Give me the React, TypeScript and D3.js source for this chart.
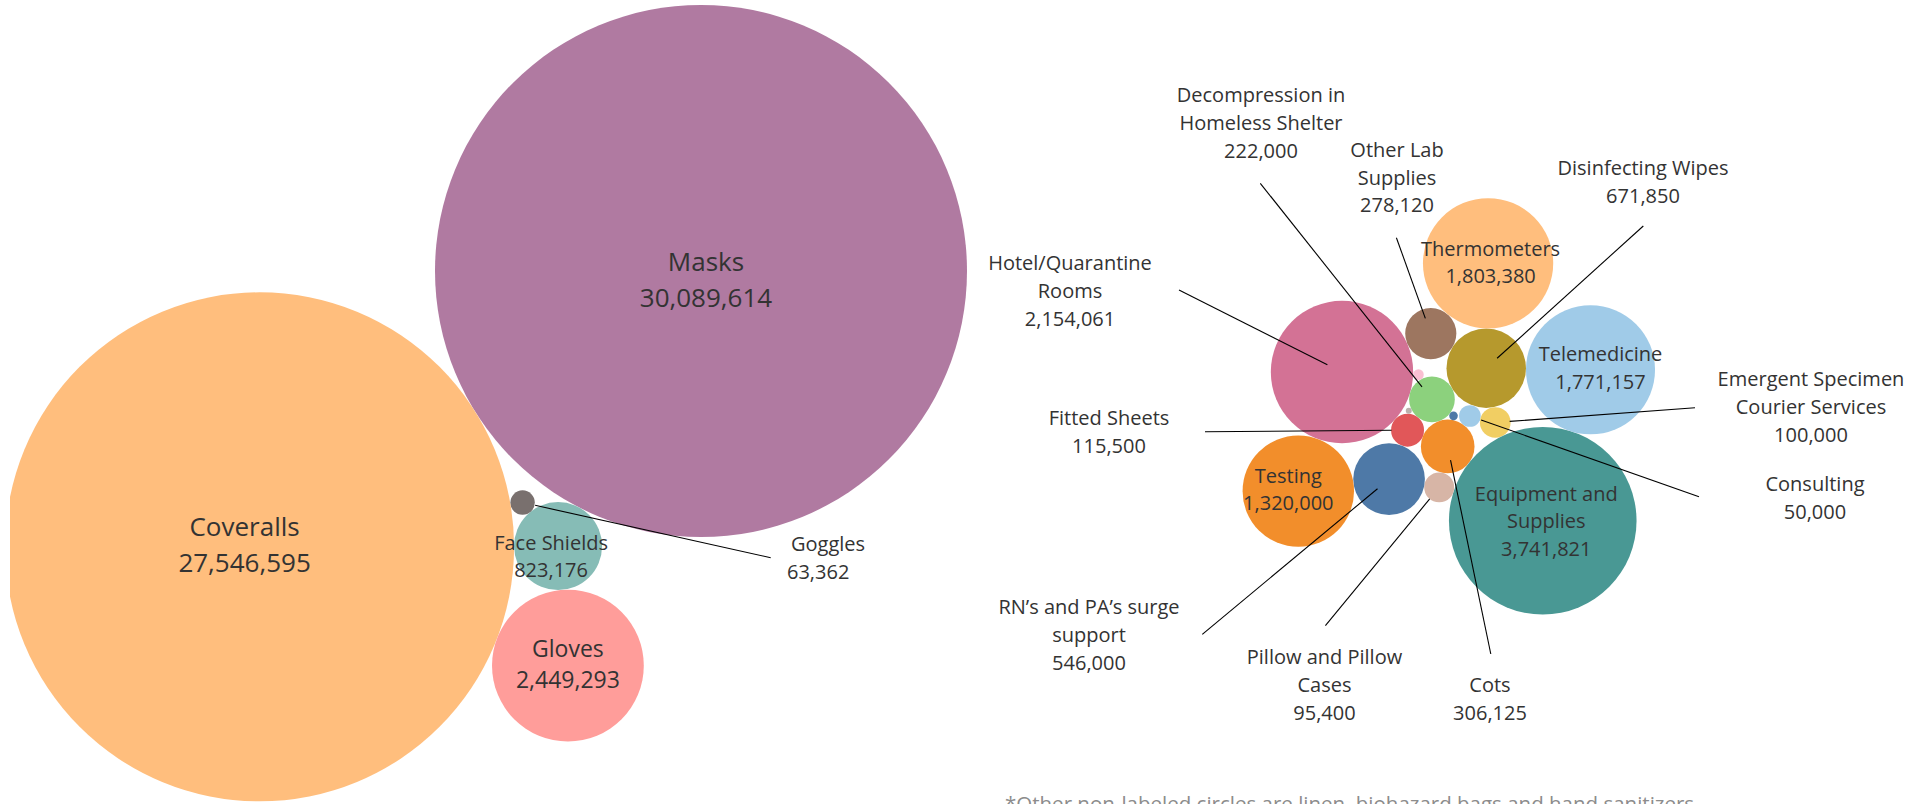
import React from "react";
import * as d3 from "d3";

// ---- data ----
const leftCategories = ["Masks", "Coveralls", "Face Shields", "Gloves", "Goggles"];
const leftValues = [30089614, 27546595, 823176, 2449293, 63362];

const rightCategories = [
  "Hotel/Quarantine Rooms",
  "Decompression in Homeless Shelter",
  "Other Lab Supplies",
  "Disinfecting Wipes",
  "Thermometers",
  "Fitted Sheets",
  "Cots",
  "Consulting",
  "Emergent Specimen Courier Services",
  "Equipment and Supplies",
  "Telemedicine",
  "Pillow and Pillow Cases",
  "RN’s and PA’s surge support",
  "Testing",
  "Linen",
  "Biohazard Bags",
  "Hand Sanitizers",
];
// last three are unlabeled in the original, sizes estimated
const rightValues = [
  2154061, 222000, 278120, 671850, 1803380, 115500, 306125, 50000, 100000,
  3741821, 1771157, 95400, 546000, 1320000, 12000, 3800, 7900,
];

const footnote = "*Other non-labeled circles are linen, biohazard bags and hand sanitizers";

// ---- styles ----
const colors: Record<string, string> = {
  Masks: "#B07AA1",
  Coveralls: "#FFBE7D",
  "Face Shields": "#86BCB6",
  Gloves: "#FF9D9A",
  Goggles: "#79706E",
  "Hotel/Quarantine Rooms": "#D37295",
  "Decompression in Homeless Shelter": "#8CD17D",
  "Other Lab Supplies": "#9D7660",
  "Disinfecting Wipes": "#B6992D",
  Thermometers: "#FFBE7D",
  "Fitted Sheets": "#E15759",
  Cots: "#F28E2B",
  Consulting: "#A0CBE8",
  "Emergent Specimen Courier Services": "#F1CE63",
  "Equipment and Supplies": "#499894",
  Telemedicine: "#A0CBE8",
  "Pillow and Pillow Cases": "#D7B5A6",
  "RN’s and PA’s surge support": "#4E79A7",
  Testing: "#F28E2B",
  Linen: "#FABFD2",
  "Biohazard Bags": "#BAB0AC",
  "Hand Sanitizers": "#4E79A7",
};

const WIDTH = 1929;
const HEIGHT = 804;
const FONT = "'Open Sans', 'Noto Sans', sans-serif";
const TEXT = "#333333";

// ---- packing: each bubble touches the two named before it ----
type Step = { id: string; a?: string; b?: string; side?: number; angle?: number };

const leftPacking: Step[] = [
  { id: "Masks" },
  { id: "Coveralls", a: "Masks", angle: 148 },
  { id: "Face Shields", a: "Masks", b: "Coveralls", side: -1 },
  { id: "Gloves", a: "Face Shields", b: "Coveralls", side: -1 },
  { id: "Goggles", a: "Coveralls", b: "Face Shields", side: -1 },
];

const H = "Hotel/Quarantine Rooms";
const DE = "Decompression in Homeless Shelter";
const rightPacking: Step[] = [
  { id: H },
  { id: DE, a: H, angle: 16.9 },
  { id: "Fitted Sheets", a: H, b: DE, side: 1 },
  { id: "Cots", a: DE, b: "Fitted Sheets", side: -1 },
  { id: "Disinfecting Wipes", a: DE, angle: -29.9 },
  { id: "Other Lab Supplies", a: H, b: "Disinfecting Wipes", side: -1 },
  { id: "Thermometers", a: "Other Lab Supplies", b: "Disinfecting Wipes", side: -1 },
  { id: "Consulting", a: "Disinfecting Wipes", b: "Cots", side: -1 },
  { id: "Emergent Specimen Courier Services", a: "Consulting", b: "Disinfecting Wipes", side: 1 },
  { id: "Equipment and Supplies", a: "Emergent Specimen Courier Services", b: "Cots", side: -1 },
  { id: "Telemedicine", a: "Disinfecting Wipes", b: "Equipment and Supplies", side: -1 },
  { id: "Pillow and Pillow Cases", a: "Cots", b: "Equipment and Supplies", side: 1 },
  { id: "RN’s and PA’s surge support", a: "Pillow and Pillow Cases", b: "Fitted Sheets", side: -1 },
  { id: "Testing", a: "RN’s and PA’s surge support", b: H, side: -1 },
  { id: "Linen", a: H, b: DE, side: -1 },
  { id: "Biohazard Bags", a: "Fitted Sheets", b: DE, side: -1 },
  { id: "Hand Sanitizers", a: DE, b: "Cots", side: -1 },
];

type Bubble = { id: string; value: number; r: number; x: number; y: number };

const maxValue = d3.max([...leftValues, ...rightValues]) as number;
const radius = d3.scaleSqrt().domain([0, maxValue]).range([0, 266]);
const fmt = d3.format(",");

function packCluster(
  cats: string[],
  vals: number[],
  steps: Step[],
  origin: [number, number]
): Map<string, Bubble> {
  const out = new Map<string, Bubble>();
  const valueOf = new Map(cats.map((c, i) => [c, vals[i]]));
  steps.forEach((s) => {
    const value = valueOf.get(s.id)!;
    const r = radius(value);
    let x = origin[0];
    let y = origin[1];
    if (s.a && s.b) {
      const A = out.get(s.a)!;
      const B = out.get(s.b)!;
      const dx = B.x - A.x;
      const dy = B.y - A.y;
      const d = Math.hypot(dx, dy);
      const da = A.r + r;
      const db = B.r + r;
      const along = (da * da - db * db + d * d) / (2 * d);
      const h = Math.sqrt(Math.max(0, da * da - along * along));
      const ux = dx / d;
      const uy = dy / d;
      x = A.x + along * ux - (s.side || 1) * h * uy;
      y = A.y + along * uy + (s.side || 1) * h * ux;
    } else if (s.a) {
      const A = out.get(s.a)!;
      const t = ((s.angle || 0) * Math.PI) / 180;
      x = A.x + (A.r + r) * Math.cos(t);
      y = A.y + (A.r + r) * Math.sin(t);
    }
    out.set(s.id, { id: s.id, value, r, x, y });
  });
  return out;
}

const leftBubbles = packCluster(leftCategories, leftValues, leftPacking, [701, 271]);
const rightBubbles = packCluster(rightCategories, rightValues, rightPacking, [1342, 372]);
const bubbles = new Map([...leftBubbles, ...rightBubbles]);

// ---- labels inside bubbles ----
type Inside = { id: string; lines: string[]; size: number; lh: number; dx: number; dy: number };
const insideLabels: Inside[] = [
  { id: "Masks", lines: ["Masks"], size: 26, lh: 36, dx: 5, dy: 0 },
  { id: "Coveralls", lines: ["Coveralls"], size: 26, lh: 36, dx: -15, dy: -11 },
  { id: "Face Shields", lines: ["Face Shields"], size: 20, lh: 27.7, dx: -7, dy: 3.5 },
  { id: "Gloves", lines: ["Gloves"], size: 23, lh: 31.3, dx: 0, dy: -8.5 },
  { id: "Thermometers", lines: ["Thermometers"], size: 20, lh: 27.4, dx: 2.5, dy: -7.5 },
  { id: "Telemedicine", lines: ["Telemedicine"], size: 20, lh: 27.4, dx: 10, dy: -8.5 },
  { id: "Testing", lines: ["Testing"], size: 20, lh: 27.4, dx: -10, dy: -8.6 },
  { id: "Equipment and Supplies", lines: ["Equipment and", "Supplies"], size: 20, lh: 27.5, dx: 3.5, dy: -20 },
];

// ---- callouts with leader lines ----
type Callout = {
  id: string;
  lines: string[];
  tx: number;
  ty: number;
  sx: number;
  sy: number;
  depth: number;
  anchor?: "middle" | "start";
};
const callouts: Callout[] = [
  { id: DE, lines: ["Decompression in", "Homeless Shelter"], tx: 1261, ty: 102.3, sx: 1260.3, sy: 183.3, depth: 0.7 },
  { id: "Other Lab Supplies", lines: ["Other Lab", "Supplies"], tx: 1397, ty: 156.7, sx: 1396.4, sy: 237.7, depth: 0.63 },
  { id: "Disinfecting Wipes", lines: ["Disinfecting Wipes"], tx: 1643, ty: 175, sx: 1643.3, sy: 226, depth: 0.37 },
  { id: H, lines: ["Hotel/Quarantine", "Rooms"], tx: 1070, ty: 270, sx: 1179, sy: 290, depth: 0.23 },
  { id: "Fitted Sheets", lines: ["Fitted Sheets"], tx: 1109, ty: 425.3, sx: 1205, sy: 431.7, depth: 0.97 },
  { id: "RN’s and PA’s surge support", lines: ["RN’s and PA’s surge", "support"], tx: 1089, ty: 614.3, sx: 1202.3, sy: 634.3, depth: 0.42 },
  { id: "Pillow and Pillow Cases", lines: ["Pillow and Pillow", "Cases"], tx: 1324.5, ty: 664, sx: 1325.4, sy: 625.7, depth: 1.0 },
  { id: "Cots", lines: ["Cots"], tx: 1490, ty: 691.7, sx: 1490.8, sy: 654, depth: 0.52 },
  { id: "Emergent Specimen Courier Services", lines: ["Emergent Specimen", "Courier Services"], tx: 1811, ty: 386, sx: 1695, sy: 407.7, depth: 0.94 },
  { id: "Consulting", lines: ["Consulting"], tx: 1815, ty: 490.7, sx: 1699, sy: 496.7, depth: 1.1 },
  { id: "Goggles", lines: ["Goggles"], tx: 791, ty: 550.7, sx: 770.7, sy: 557.7, depth: 1.05, anchor: "start" },
];

const CALLOUT_LH = 27.8;

export default function App() {
  const all = [...bubbles.values()];
  return (
    <div style={{ position: "absolute", left: 0, top: 0, width: WIDTH, height: HEIGHT, background: "#fff" }}>
      <svg width={WIDTH} height={HEIGHT} style={{ display: "block" }} fontFamily={FONT}>
        <defs>
          <clipPath id="sheet">
            <rect x={10} y={0} width={WIDTH - 10} height={HEIGHT} />
          </clipPath>
        </defs>
        <g clipPath="url(#sheet)">
          {all.map((b) => (
            <circle key={b.id} cx={b.x} cy={b.y} r={b.r} fill={colors[b.id]} />
          ))}

          {callouts.map((c) => {
            const b = bubbles.get(c.id)!;
            const vx = c.sx - b.x;
            const vy = c.sy - b.y;
            const len = Math.hypot(vx, vy);
            const ex = b.x + (vx / len) * b.r * c.depth;
            const ey = b.y + (vy / len) * b.r * c.depth;
            return (
              <line key={"l" + c.id} x1={c.sx} y1={c.sy} x2={ex} y2={ey} stroke="#000" strokeWidth={1.1} />
            );
          })}

          {insideLabels.map((l) => {
            const b = bubbles.get(l.id)!;
            const rows = [...l.lines, fmt(b.value)];
            return (
              <g key={"i" + l.id} fill={TEXT} fontSize={l.size} textAnchor="middle">
                {rows.map((t, i) => (
                  <text key={i} x={b.x + l.dx} y={b.y + l.dy + i * l.lh}>
                    {t}
                  </text>
                ))}
              </g>
            );
          })}

          {callouts.map((c) => {
            const b = bubbles.get(c.id)!;
            const rows = [...c.lines, fmt(b.value)];
            const start = c.anchor === "start";
            return (
              <g key={"c" + c.id} fill={TEXT} fontSize={20} textAnchor={c.anchor || "middle"}>
                {rows.map((t, i) => (
                  <text key={i} x={c.tx - (start && i > 0 ? 4 : 0)} y={c.ty + i * (start ? 28.6 : CALLOUT_LH)}>
                    {t}
                  </text>
                ))}
              </g>
            );
          })}

          <text x={1005} y={811} fontSize={20.5} fill="#8c8c8c">
            {footnote}
          </text>
        </g>
      </svg>
    </div>
  );
}
